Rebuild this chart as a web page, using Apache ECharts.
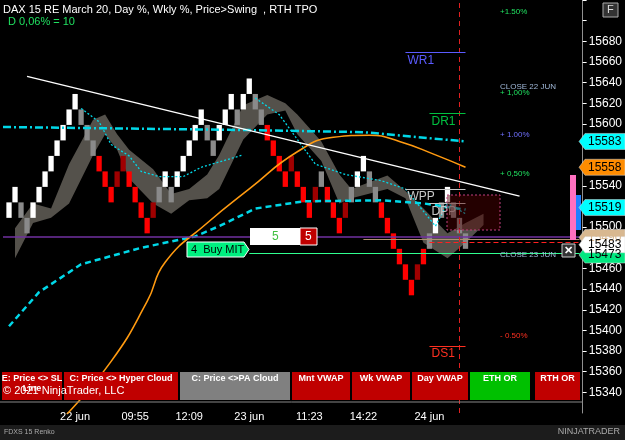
<!DOCTYPE html><html><head><meta charset="utf-8">
<script src="https://cdn.jsdelivr.net/npm/echarts@6/dist/echarts.min.js"></script>
<style>html,body{margin:0;background:#000}#c{width:625px;height:440px}</style></head><body><div id="c"></div>
<script>
const brickLow=[15509,15524,15509,15494,15509,15524,15539,15554,15569,15584,
15599,15614,15599,15584,15569,15554,15539,15524,15539,15554,
15539,15524,15509,15494,15509,15524,15539,15524,15539,15554,
15569,15584,15599,15584,15569,15584,15599,15614,15599,15614,
15629,15614,15599,15584,15569,15554,15539,15554,15539,15524,
15509,15524,15539,15524,15509,15494,15509,15524,15539,15554,
15539,15524,15509,15494,15479,15464,15449,15434,15449,15464,
15479,15494,15509,15524,15509,15494,15479];
const brickType="WWGGWWWWWWWWGGGRRRDDRRRRDGWGWWWWWGGWWWGWWGGRRRRDRRRDGRRRDGWWGGRRRRRRDRGWGWGGG";
const brickSize=15;
const xLabels={12:'22 jun',22:'09:55',31:'12:09',41:'23 jun',51:'11:23',60:'14:22',71:'24 jun'};
const nCats=97;
const vwapWeek=[[0,15597],[41,15594],[60,15592],[77,15583]];
const vwapLow=[[1,15404],[6,15437],[13,15464],[23,15480],[32,15491],[36,15501],[42,15518],[50,15525],[63,15526],[70,15523],[77,15517]];
const orange=[[10,15315],[18,15370],[24,15428],[27,15466],[34,15504],[41,15537],[49,15573],[55,15587],[61,15589],[66,15583],[72,15570],[77,15558]];
const dotted=[[13,15615],[16,15602],[18,15580],[21,15569],[23,15554],[26,15549],[30,15549],[33,15558],[40,15570],[null,null],[42,15625],[46,15609],[50,15577],[52,15561],[57,15551],[63,15545],[67,15537],[72,15501],[74,15523],[77,15513]];
const trend=[[4,15646],[86,15530]];
const cloudIdx=[2,5,8,11,15,17,19,21,25,28,31,34,36,40,44,47,49,53,56,58,64,67,70,74,77,80];
const cloudTop=[15499,15523,15518,15561,15604,15609,15590,15575,15556,15532,15537,15551,15570,15618,15628,15620,15609,15583,15551,15537,15550,15535,15518,15494,15504,15513];
const cloudBot=[15470,15504,15509,15523,15570,15590,15575,15547,15523,15513,15526,15528,15537,15585,15609,15613,15590,15564,15523,15528,15537,15528,15485,15470,15485,15502];
const pivots=[{n:'WR1',v:15669,s:67,c:'#5b5bff'},{n:'DR1',v:15610,s:71,c:'#00c040'},{n:'WPP',v:15537,s:67,c:'#c8c8c8'},{n:'DPP',v:15523,s:71,c:'#c8c8c8'},{n:'DS1',v:15385,s:71,c:'#ff3020'}];
const tags=[{v:15583,bg:'#00ffff',fg:'#000'},{v:15558,bg:'#ff8c00',fg:'#000'},{v:15519,bg:'#00ffff',fg:'#000'},{v:15490,bg:'#d8b890',fg:'#d8b890'},{v:15473,bg:'#00e880',fg:'#000'},{v:15483,bg:'#ffffff',fg:'#000'}];
const colors={W:'#ffffff',G:'#8a8a8a',R:'#ff0000',D:'#a00000'};
const cats=Array.from({length:nCats},(_,i)=>xLabels[i]||'');
const chart=echarts.init(document.getElementById('c'));
const ln=(data,color,type,w,extra)=>Object.assign({type:'line',data,symbol:'none',silent:true,connectNulls:false,lineStyle:{color,type,width:w}},extra||{});
chart.setOption({
 backgroundColor:'#000',animation:false,
 grid:{left:0,right:42,top:-7.35,bottom:27},
 xAxis:{type:'category',data:cats,boundaryGap:true,axisLine:{show:false},axisTick:{show:false},
  axisLabel:{interval:0,color:'#fff',fontSize:11,margin:-2,fontFamily:'Arial'}},
 yAxis:{type:'value',position:'right',min:15320,max:15720,interval:20,splitLine:{show:false},
  axisLine:{show:true,lineStyle:{color:'#909090'}},axisTick:{show:true,length:4,lineStyle:{color:'#fff'}},
  axisLabel:{color:'#fff',fontSize:12,margin:6,fontFamily:'Arial',showMinLabel:false,formatter:v=>(v>=15700?'':v)}},
 series:[
  {type:'custom',silent:true,data:[0],z:1,renderItem:(p,api)=>{
    const pts=[];cloudIdx.forEach((x,i)=>pts.push(api.coord([x,cloudTop[i]])));
    for(let i=cloudIdx.length-1;i>=0;i--)pts.push(api.coord([cloudIdx[i],cloudBot[i]]));
    return {type:'polygon',shape:{points:pts},style:{fill:'rgba(140,135,125,0.6)'}};}},
  {type:'bar',stack:'b',data:brickLow.map((v,i)=>[i+1,v]),itemStyle:{color:'transparent'},barWidth:'88%',silent:true,z:3},
  {type:'bar',stack:'b',data:brickLow.map((v,i)=>({value:[i+1,brickSize],itemStyle:{color:colors[brickType[i]]}})),barWidth:'88%',silent:true,z:3},
  ln(vwapWeek,'#00d8e8',[8,3,2,3],2.5,{z:4}),
  ln(vwapLow,'#00d8e8',[6,4],2.5,{z:4}),
  ln(orange,'#ff9a10','solid',1.6,{smooth:true,z:4}),
  ln(dotted,'#00d8e8',[2,2],1.3,{z:4}),
  ln(trend,'#ffffff','solid',1.4,{z:5,markLine:{silent:true,symbol:'none',data:[
    [{coord:[0,15491],lineStyle:{color:'#7030a0',width:1.5,type:'solid'}},{coord:[nCats-1,15491]}],
    [{coord:[60,15488],lineStyle:{color:'#b09070',width:1,type:'solid'}},{coord:[nCats-1,15488]}],
    [{coord:[71,15485],lineStyle:{color:'#ff2020',width:1.2,type:[5,3]}},{coord:[nCats-1,15485]}],
    [{coord:[41,15475],lineStyle:{color:'#30ff90',width:1,type:'solid'}},{coord:[nCats-1,15475]}],
    {xAxis:76,lineStyle:{color:'#e02020',width:1,type:[5,4]}},
    ...pivots.map(p=>[{coord:[p.s,p.v],lineStyle:{color:p.c,width:1.2,type:'solid'},label:{show:true,formatter:p.n,position:'insideStartBottom',color:p.c,fontSize:12,distance:2}},{coord:[77,p.v]}])
   ],label:{show:false}}})
 ]
});
const px=v=>chart.convertToPixel({yAxisIndex:0},v);
const g=[];
tags.forEach(t=>{const y=px(t.v);g.push({type:'polygon',shape:{points:[[579,y],[585,y-8],[625,y-8],[625,y+8],[585,y+8]]},style:{fill:t.bg,stroke:'#ddd',lineWidth:0.5},z:100});
 g.push({type:'text',x:588,y:y,style:{text:String(t.v),fill:t.fg,font:'12px Arial',verticalAlign:'middle'},z:101});});
const T=(x,y,text,fill,font)=>g.push({type:'text',x,y,style:{text,fill,font:font||'11px Arial',verticalAlign:'middle'},z:80});
T(3,10,'DAX 15 RE March 20, Day %, Wkly %, Price>Swing  , RTH TPO','#fff','11px Arial');
T(8,22,'D 0,06% = 10','#20e060','11px Arial');
T(500,12,'+1.50%','#20e060','8px Arial');T(500,87,'CLOSE 22 JUN','#a0b8d8','8px Arial');T(500,93,'+ 1,00%','#20e060','8px Arial');
T(500,135,'+ 1.00%','#7070ff','8px Arial');T(500,174,'+ 0,50%','#20e060','8px Arial');T(500,255,'CLOSE 23 JUN','#a0b8d8','8px Arial');T(500,336,'- 0.50%','#ff3020','8px Arial');
g.push({type:'rect',shape:{x:447,y:195,width:53,height:35},style:{fill:'rgba(80,0,0,0.45)',stroke:'#c04080',lineDash:[2,2],lineWidth:1},z:40});
g.push({type:'rect',shape:{x:250,y:228,width:50,height:17},style:{fill:'#fff'},z:60});T(272,236.5,'5','#40c040','12px Arial');
g.push({type:'rect',shape:{x:300,y:228,width:17,height:17},style:{fill:'#c00000',stroke:'#fff'},z:60});T(305,236.5,'5','#fff','12px Arial');
g.push({type:'polygon',shape:{points:[[187,242],[244,242],[249,249.5],[244,257],[187,257]]},style:{fill:'#00f080',stroke:'#fff',lineWidth:1},z:60});T(191,249.5,'4  Buy MIT','#000','11px Arial');
g.push({type:'rect',shape:{x:570,y:175,width:6,height:65},style:{fill:'#ff70c0'},z:45});
g.push({type:'rect',shape:{x:576,y:195,width:5,height:35},style:{fill:'#2080ff'},z:45});
g.push({type:'rect',shape:{x:562,y:244,width:13,height:13},style:{fill:'#333',stroke:'#ccc'},z:60});T(564,250.5,'✕','#fff','bold 11px Arial');
const btns=[[2,62,'E: Price <> SL\nLine','#c00000'],[64,178,'C: Price <> Hyper Cloud','#c00000'],[180,290,'C: Price <>PA Cloud','#808080'],[292,350,'Mnt VWAP','#c00000'],[352,410,'Wk VWAP','#c00000'],[412,468,'Day VWAP','#c00000'],[470,530,'ETH OR','#00c000'],[535,580,'RTH OR','#c00000']];
btns.forEach(b=>{g.push({type:'rect',shape:{x:b[0],y:372,width:b[1]-b[0],height:28},style:{fill:b[3]},z:70});
 g.push({type:'text',x:(b[0]+b[1])/2,y:374,style:{text:b[2],fill:'#fff',font:'bold 9px Arial',align:'center',verticalAlign:'top',lineHeight:10},z:71});});
T(3,391,'© 2021 NinjaTrader, LLC','#fff','11px Arial');
g.push({type:'line',shape:{x1:0,y1:402,x2:583,y2:402},style:{stroke:'#888',lineWidth:1},z:72});
g.push({type:'rect',shape:{x:0,y:425,width:625,height:15},style:{fill:'#1c1c1c'},z:72});
T(4,432,'FDXS 15 Renko','#aaa','7px Arial');
g.push({type:'text',x:620,y:432,style:{text:'NINJATRADER',fill:'#aaa',font:'9px Arial',align:'right',verticalAlign:'middle'},z:73});
g.push({type:'rect',shape:{x:603,y:3,width:15,height:14},style:{fill:'#333',stroke:'#aaa'},z:73});T(607,10,'F','#ddd','11px Arial');
chart.setOption({graphic:g});
</script></body></html>
